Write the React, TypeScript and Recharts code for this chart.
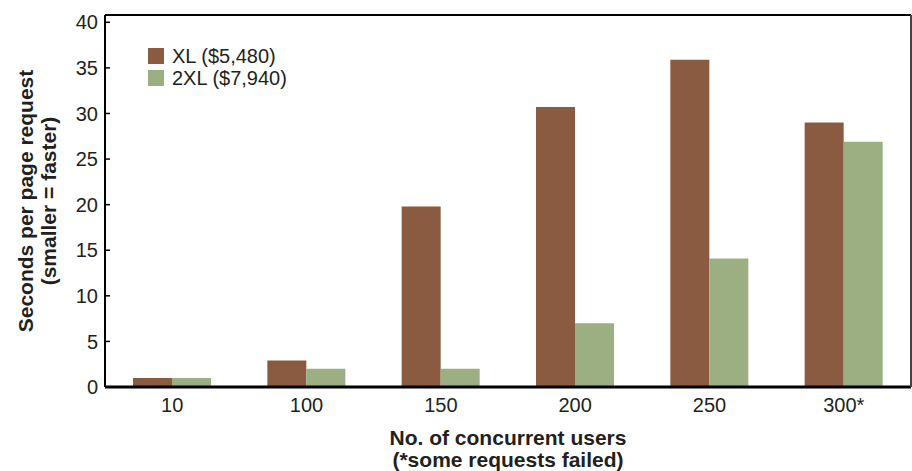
import React from 'react';
import { BarChart, Bar, XAxis, YAxis, Legend } from 'recharts';

const categories = ['10', '100', '150', '200', '250', '300*'];
const xlValues = [1.0, 2.9, 19.8, 30.7, 35.9, 29.0];
const xxlValues = [1.0, 2.0, 2.0, 7.0, 14.1, 26.9];
const yTicks = [0, 5, 10, 15, 20, 25, 30, 35, 40];
const separatorTicks = [1, 2, 3, 4, 5];
const seriesNames = ['XL ($5,480)', '2XL ($7,940)'];

const XL_COLOR = '#8a5b40';
const XXL_COLOR = '#9baf83';
const FONT = '"Liberation Sans", Arial, Helvetica, sans-serif';
const TEXT = '#231f20';

const data = categories.map((c, i) => ({ users: c, xl: xlValues[i], xxl: xxlValues[i] }));

const titleStyle = { fontFamily: FONT, fontWeight: 700, fontSize: 21, fill: TEXT };

const YLabel = (props: any) => {
  const vb = props.viewBox || {};
  const cy = vb.y + vb.height / 2;
  return (
    <g>
      <text x={25} y={cy} transform={`rotate(-90 25 ${cy})`} textAnchor="middle" dominantBaseline="central" style={titleStyle}>
        Seconds per page request
      </text>
      <text x={48} y={cy} transform={`rotate(-90 48 ${cy})`} textAnchor="middle" dominantBaseline="central" style={titleStyle}>
        (smaller = faster)
      </text>
    </g>
  );
};

const XLabel = (props: any) => {
  const vb = props.viewBox || {};
  const cx = vb.x + vb.width / 2;
  return (
    <g>
      <text x={cx} y={445} textAnchor="middle" style={titleStyle}>
        No. of concurrent users
      </text>
      <text x={cx} y={467} textAnchor="middle" style={titleStyle}>
        (*some requests failed)
      </text>
    </g>
  );
};

const LegendContent = () => {
  const colors = [XL_COLOR, XXL_COLOR];
  return (
    <div style={{ fontFamily: FONT, fontSize: 20, color: TEXT, lineHeight: '22px' }}>
      {seriesNames.map((n, i) => (
        <div key={n} style={{ display: 'flex', alignItems: 'center', height: 22, whiteSpace: 'nowrap' }}>
          <span style={{ display: 'inline-block', width: 16, height: 16, background: colors[i], marginRight: 8 }} />
          <span>{n}</span>
        </div>
      ))}
    </div>
  );
};

export default function App() {
  return (
    <div style={{ position: 'absolute', left: 0, top: 0, background: '#fff' }}>
      <BarChart width={912} height={471} data={data} margin={{ top: 14, right: 0, bottom: 53, left: 0 }}
        barGap={0} barSize={39}>
        <XAxis xAxisId={0} type="number" domain={[0, 6]} ticks={separatorTicks} allowDataOverflow
          orientation="bottom" height={1} tick={false} tickSize={-6}
          axisLine={{ stroke: '#000', strokeWidth: 3 }} tickLine={{ stroke: '#000', strokeWidth: 1.5 }} />
        <XAxis xAxisId="cat" dataKey="users" type="category" orientation="bottom" height={30}
          axisLine={false} tickLine={false} tickSize={6} tickMargin={4}
          tick={{ fontFamily: FONT, fontSize: 20, fill: TEXT }} interval={0}
          label={<XLabel />} />
        <XAxis xAxisId="top" type="number" domain={[0, 1]} orientation="top" height={1} tick={false}
          tickLine={false} axisLine={{ stroke: '#000', strokeWidth: 2 }} />
        <YAxis yAxisId={0} type="number" domain={[0, 40.8]} ticks={yTicks} allowDataOverflow width={105}
          tickSize={-5} tickMargin={12} interval={0}
          tick={{ fontFamily: FONT, fontSize: 20, fill: TEXT }}
          axisLine={{ stroke: '#000', strokeWidth: 2 }} tickLine={{ stroke: '#000', strokeWidth: 1.5 }}
          label={<YLabel />} />
        <YAxis yAxisId="right" type="number" domain={[0, 40.8]} ticks={yTicks} allowDataOverflow width={1}
          orientation="right" tickSize={-5} tick={false} interval={0}
          axisLine={{ stroke: '#444', strokeWidth: 2 }} tickLine={{ stroke: '#444', strokeWidth: 1.5 }} />
        <Legend layout="horizontal" verticalAlign="middle" align="center" content={<LegendContent />}
          wrapperStyle={{ position: 'absolute', left: 148, top: 45, width: 'auto', height: 'auto' }} />
        <Bar xAxisId="cat" yAxisId={0} dataKey="xl" name={seriesNames[0]} fill={XL_COLOR} isAnimationActive={false} />
        <Bar xAxisId="cat" yAxisId={0} dataKey="xxl" name={seriesNames[1]} fill={XXL_COLOR} isAnimationActive={false} />
      </BarChart>
    </div>
  );
}
